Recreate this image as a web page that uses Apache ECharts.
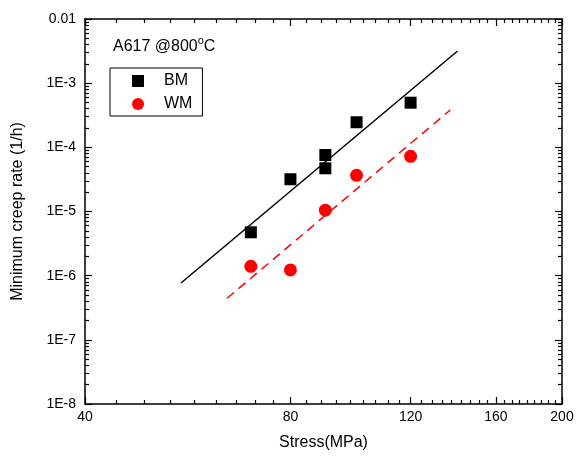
<!DOCTYPE html>
<html>
<head>
<meta charset="utf-8">
<script src="https://cdn.jsdelivr.net/npm/echarts@6/dist/echarts.min.js"></script>
<style>html,body{margin:0;padding:0;background:#fff}#c{width:577px;height:459px}</style>
</head>
<body>
<div id="c"></div>
<script>
// ---- data ----
const stressBM = [70, 80, 90, 90, 100, 120];
const rateBM = [4.74e-6, 3.18e-5, 7.6e-5, 4.71e-5, 2.46e-4, 4.96e-4];
const stressWM = [70, 80, 90, 100, 120];
const rateWM = [1.40e-6, 1.23e-6, 1.05e-5, 3.66e-5, 7.25e-5];
const fitBMStress = [55.3, 140.6];
const fitBMRate = [7.69e-7, 3.17e-3];
const fitWMStress = [64.6, 137.2];
const fitWMRate = [4.44e-7, 3.82e-4];
const xTickLabels = [40, 80, 120, 160, 200];
const yTickLabels = [1e-8, 1e-7, 1e-6, 1e-5, 1e-4, 1e-3, 1e-2];
const seriesNames = ['BM', 'WM'];
const titleParts = ['A617 @800', 'o', 'C'];

// ---- minor tick positions ----
const xMinor = [];
for (let i = 0; i < xTickLabels.length - 1; i++) {
  const a = xTickLabels[i], b = xTickLabels[i + 1];
  for (let k = 1; k < 9; k++) xMinor.push(a + (b - a) * k / 9);
}
const yMinor = [];
for (let e = -8; e <= -3; e++) for (let d = 2; d <= 9; d++) yMinor.push(d * Math.pow(10, e));

const FONT = 'Liberation Sans, Arial, sans-serif';
const zip = (xs, ys) => xs.map((x, i) => [x, ys[i]]);

function xAxisDef(pos, major, showLabel) {
  return {
    type: 'log', logBase: 10, min: 40, max: 200, position: pos, offset: 0,
    axisLine: { show: major, onZero: false, lineStyle: { color: '#000', width: 1.5 } },
    axisTick: { show: true, inside: true, length: major ? 7 : 4, customValues: major ? xTickLabels : xMinor,
      lineStyle: { color: '#000', width: 1.2 } },
    axisLabel: { show: showLabel, customValues: xTickLabels, margin: 6, color: '#000', fontSize: 14, fontFamily: FONT,
      formatter: v => String(Math.round(v)) },
    splitLine: { show: false }, minorTick: { show: false },
    name: showLabel ? 'Stress(MPa)' : '', nameLocation: 'middle', nameGap: 31,
    nameTextStyle: { color: '#000', fontSize: 16, fontFamily: FONT }
  };
}
function yAxisDef(pos, major, showLabel) {
  return {
    type: 'log', logBase: 10, min: 1e-8, max: 1e-2, position: pos, offset: 0,
    axisLine: { show: major, onZero: false, lineStyle: { color: '#000', width: 1.5 } },
    axisTick: { show: true, inside: true, length: major ? 7 : 4, customValues: major ? yTickLabels : yMinor,
      lineStyle: { color: '#000', width: 1.2 } },
    axisLabel: { show: showLabel, customValues: yTickLabels, margin: 9, color: '#000', fontSize: 14, fontFamily: FONT,
      formatter: v => { const e = Math.round(Math.log10(v)); return e >= -2 ? '0.01' : '1E' + e; } },
    splitLine: { show: false }, minorTick: { show: false },
    name: showLabel ? 'Minimum creep rate (1/h)' : '', nameLocation: 'middle', nameGap: 59, nameRotate: 90,
    nameTextStyle: { color: '#000', fontSize: 16, fontFamily: FONT }
  };
}

const chart = echarts.init(document.getElementById('c'), null, { renderer: 'canvas' });
chart.setOption({
  backgroundColor: '#fff',
  animation: false,
  textStyle: { fontFamily: FONT },
  grid: { left: 85, right: 15, top: 19, bottom: 55, containLabel: false, outerBoundsMode: 'none' },
  title: { text: '{n|' + titleParts[0] + '}{s|' + titleParts[1] + '}{n|' + titleParts[2] + '}', left: 113, top: 38, padding: 0,
    textStyle: { color: '#000', fontSize: 16, fontWeight: 'normal', fontFamily: FONT,
      rich: { n: { fontSize: 16, lineHeight: 18, color: '#000', fontFamily: FONT },
              s: { fontSize: 11, lineHeight: 11, padding: [0, 0, 12, 0], color: '#000', fontFamily: FONT } } } },
  legend: {
    data: [{ name: seriesNames[0], icon: 'rect' }, { name: seriesNames[1], icon: 'circle' }],
    orient: 'vertical', left: 110, top: 68,
    itemWidth: 12, itemHeight: 12, itemGap: 7,
    padding: [5, 10, 4, 22], borderColor: '#000', borderWidth: 1, borderRadius: 0,
    textStyle: { color: '#000', fontSize: 16, fontFamily: FONT, lineHeight: 16, padding: [0, 0, 0, 15] }
  },
  xAxis: [xAxisDef('bottom', true, true), xAxisDef('bottom', false, false), xAxisDef('top', true, false), xAxisDef('top', false, false)],
  yAxis: [yAxisDef('left', true, true), yAxisDef('left', false, false), yAxisDef('right', true, false), yAxisDef('right', false, false)],
  series: [
    { name: 'BM fit', type: 'line', data: zip(fitBMStress, fitBMRate), showSymbol: false, symbol: 'none',
      lineStyle: { color: '#000', width: 1.5 }, z: 2 },
    { name: 'WM fit', type: 'line', data: zip(fitWMStress, fitWMRate), showSymbol: false, symbol: 'none',
      lineStyle: { color: '#ff0000', width: 1.5, type: [9, 6] }, z: 2 },
    { name: seriesNames[0], type: 'scatter', data: zip(stressBM, rateBM), symbol: 'rect', symbolSize: 12,
      itemStyle: { color: '#000', opacity: 1 }, z: 3 },
    { name: seriesNames[1], type: 'scatter', data: zip(stressWM, rateWM), symbol: 'circle', symbolSize: 13,
      itemStyle: { color: '#ff0000', opacity: 1 }, z: 3 }
  ]
});
</script>
</body>
</html>
